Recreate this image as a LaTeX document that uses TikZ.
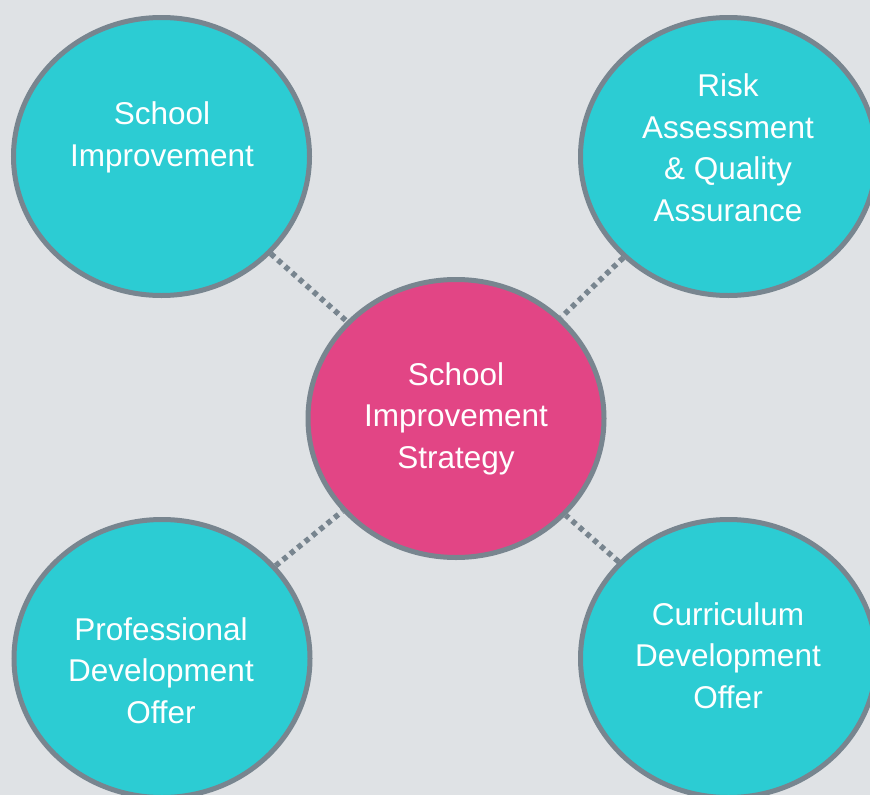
\documentclass[tikz,border=0pt]{standalone}
\usepackage{fontspec}
\setmainfont{Liberation Sans}
\usetikzlibrary{shapes.geometric,backgrounds}
\definecolor{bgc}{HTML}{DFE2E5}
\definecolor{tealc}{HTML}{2CCCD3}
\definecolor{pinkc}{HTML}{E24585}
\definecolor{rimc}{HTML}{78858F}
\tikzset{
  bubble/.style={ellipse, draw=rimc, line width=5pt, fill=tealc, inner sep=0pt,
    minimum width=296pt, minimum height=278pt},
  hub/.style={bubble, fill=pinkc},
  label/.style={text=white, align=center, anchor=base,
    font=\fontsize{31.5}{41.5}\selectfont, inner sep=0pt},
  link/.style={draw=rimc, line width=5.5pt, dash pattern=on 5pt off 4.5pt}
}
\begin{document}
\begin{tikzpicture}[x=1pt,y=-1pt]
\begin{pgfonlayer}{background}
\fill[bgc] (0,0) rectangle (870,795);
\end{pgfonlayer}
\useasboundingbox (0,0) rectangle (870,795);
\node[hub] (c) at (456,418.5) {};
\node[bubble] (tl) at (161.5,156.5) {};
\node[bubble] (tr) at (728.5,156.5) {};
\node[bubble] (bl) at (162,658.5) {};
\node[bubble] (br) at (728.5,658.5) {};
\begin{pgfonlayer}{background}
\draw[link] (tl) -- (c);
\draw[link] (tr) -- (c);
\draw[link] (bl) -- (c);
\draw[link] (br) -- (c);
\end{pgfonlayer}
\node[label] (tlt) at (162,166) {School\\Improvement};
\node[label] (trt) at (728,221) {Risk\\Assessment\\\&~Quality\\Assurance};
\node[label] (ct) at (456,468) {School\\Improvement\\Strategy};
\node[label] (blt) at (161,723) {Professional\\Development\\Offer};
\node[label] (brt) at (728,708) {Curriculum\\Development\\Offer};
\end{tikzpicture}
\end{document}
